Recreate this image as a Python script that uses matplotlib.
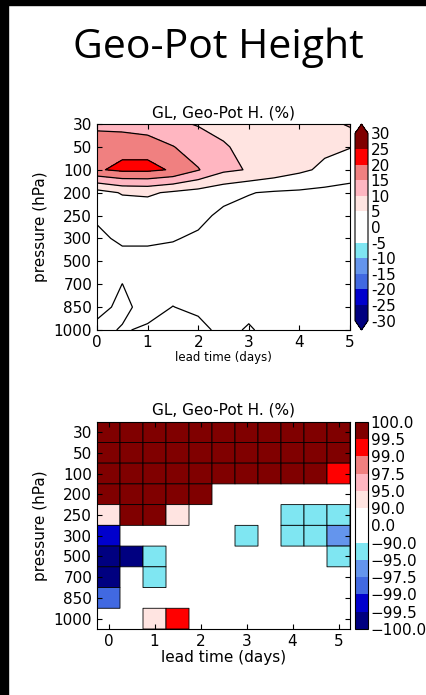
import numpy as np
import matplotlib
matplotlib.use("Agg")
import matplotlib.pyplot as plt
from matplotlib.colors import ListedColormap, BoundaryNorm
from matplotlib.patches import Rectangle

plt.rcParams["font.family"] = "DejaVu Sans"
plt.rcParams["font.size"] = 11
plt.rcParams["xtick.direction"] = "in"
plt.rcParams["ytick.direction"] = "in"
plt.rcParams["xtick.top"] = True
plt.rcParams["ytick.right"] = True

W, H = 426, 695

PRESSURE = ["30", "50", "100", "200", "250", "300", "500", "700", "850", "1000"]
LEAD_DAYS = [0, 0.5, 1, 1.5, 2, 2.5, 3, 3.5, 4, 4.5, 5]
DAY_TICKS = [0, 1, 2, 3, 4, 5]

# height difference (%), rows = pressure levels, columns = lead time
GEOPOT_DIFF = [
    [13.5, 13.0, 11.5, 10.8, 9.7, 8.5, 8.0, 7.5, 7.5, 8.0, 10.8],
    [18.5, 18.7, 18.7, 15.2, 12.5, 10.5, 8.5, 7.5, 6.8, 6.0, 5.3],
    [19.5, 21.0, 21.0, 19.6, 15.3, 11.0, 9.7, 8.0, 6.0, 4.0, 0.5],
    [3.0, 5.4, 5.8, 4.2, 3.0, 1.5, 0.2, -0.5, -0.8, -1.26, -0.35],
    [0.4, 1.5, 1.5, 2.0, 1.2, -1.0, -1.5, -1.5, -1.5, -1.5, -1.0],
    [-0.6, 0.5, 0.5, 0.3, -0.7, -1.5, -1.5, -1.5, -1.5, -1.5, -1.2],
    [-2.0, -1.0, -1.0, -1.7, -2.0, -2.0, -2.0, -2.0, -2.0, -2.0, -2.0],
    [-1.5, 0.02, -1.5, -1.0, -1.5, -1.5, -1.5, -1.5, -1.5, -1.5, -1.5],
    [-0.8, 0.6, -0.9, 0.05, -0.6, -1.0, -0.8, -1.0, -1.0, -1.0, -1.0],
    [0.7, -0.2, 0.35, 1.5, 0.9, -0.83, 0.3, -1.0, -1.0, -1.0, -1.0],
]

# significance level (%), None = not significant
N = None
SIGNIFICANCE = [
    [99.9, 99.9, 99.9, 99.9, 99.9, 99.9, 99.9, 99.9, 99.9, 99.9, 99.9],
    [99.9, 99.9, 99.9, 99.9, 99.9, 99.9, 99.9, 99.9, 99.9, 99.9, 99.9],
    [99.9, 99.9, 99.9, 99.9, 99.9, 99.9, 99.9, 99.9, 99.9, 99.9, 99.2],
    [99.9, 99.9, 99.9, 99.9, 99.9, N, N, N, N, N, N],
    [92.0, 99.9, 99.9, 92.0, N, N, N, N, -92.0, -92.0, -92.0],
    [-99.2, N, N, N, N, N, -92.0, N, -92.0, -92.0, -96.0],
    [-99.8, -99.8, -92.0, N, N, N, N, N, N, N, -92.0],
    [-99.8, N, -92.0, N, N, N, N, N, N, N, N],
    [-98.0, N, N, N, N, N, N, N, N, N, N],
    [N, N, 92.0, 99.2, N, N, N, N, N, N, N],
]

DIFF_LEVELS = [-30, -25, -20, -15, -10, -5, 0, 5, 10, 15, 20, 25, 30]
SIG_LEVELS = [-100, -99.5, -99, -97.5, -95, -90, 0, 90, 95, 97.5, 99, 99.5, 100]

BAND_COLORS = ["#000080", "#0000cd", "#4169e1", "#6495ed", "#7fe6f2", "white",
               "white", "#ffe4e1", "#ffb6c1", "#f08080", "#ff0000", "#800000"]


def _axes(fig, left, top, right, bottom):
    return fig.add_axes([left / W, 1 - bottom / H, (right - left) / W, (bottom - top) / H])


def plot_contour(fig):
    ax = _axes(fig, 97, 124, 350, 330)
    cax = _axes(fig, 355, 124, 368, 330)
    x = np.array(LEAD_DAYS)
    y = np.arange(len(PRESSURE))
    z = np.array(GEOPOT_DIFF)
    colors = [BAND_COLORS[0]] + BAND_COLORS + [BAND_COLORS[-1]]
    cf = ax.contourf(x, y, z, levels=DIFF_LEVELS, colors=colors, extend="both")
    ax.contour(x, y, z, levels=DIFF_LEVELS, colors="k", linewidths=0.9)
    ax.set_xlim(0, 5)
    ax.set_ylim(len(PRESSURE) - 1, 0)
    ax.set_yticks(y)
    ax.set_yticklabels(PRESSURE)
    ax.set_xticks(DAY_TICKS)
    ax.set_ylabel("pressure (hPa)")
    ax.set_xlabel("lead time (days)", fontsize=8.5, labelpad=1)
    ax.set_title("GL, Geo-Pot H. (%)", fontsize=11, pad=5)

    cb = fig.colorbar(cf, cax=cax, ticks=DIFF_LEVELS)
    cb.ax.set_yticklabels(["%d" % v for v in DIFF_LEVELS])
    cb.ax.tick_params(length=0, pad=2)


def plot_significance(fig):
    ax = _axes(fig, 97, 421.7, 350, 629)
    cax = _axes(fig, 355, 421.7, 368, 629)
    x = np.array(LEAD_DAYS)
    y = np.arange(len(PRESSURE))
    xe = np.append(x - 0.25, x[-1] + 0.25)
    ye = np.append(y - 0.5, y[-1] + 0.5)
    sig = np.array([[np.nan if v is None else v for v in row] for row in SIGNIFICANCE])
    sig = np.ma.masked_invalid(sig)
    cmap = ListedColormap(BAND_COLORS)
    norm = BoundaryNorm(SIG_LEVELS, cmap.N)
    pc = ax.pcolor(xe, ye, sig, cmap=cmap, norm=norm, edgecolors="k", linewidths=0.6)
    ax.set_xlim(xe[0], xe[-1])
    ax.set_ylim(ye[-1], ye[0])
    ax.set_yticks(y)
    ax.set_yticklabels(PRESSURE)
    ax.set_xticks(DAY_TICKS)
    ax.set_ylabel("pressure (hPa)")
    ax.set_xlabel("lead time (days)", labelpad=1)
    ax.set_title("GL, Geo-Pot H. (%)", fontsize=11, pad=5)

    cb = fig.colorbar(pc, cax=cax, ticks=SIG_LEVELS, spacing="uniform")
    cb.ax.set_yticklabels([("%.1f" % v).replace("-", "\u2212") for v in SIG_LEVELS])
    cb.ax.tick_params(length=0, pad=2)


if __name__ == "__main__":
    fig = plt.figure(figsize=(W / 100, H / 100), dpi=100)
    fig.add_artist(Rectangle((0, 0), 8 / W, 1, transform=fig.transFigure, color="k"))
    fig.add_artist(Rectangle((0, 1 - 5 / H), 1, 5 / H, transform=fig.transFigure, color="k"))
    fig.text(218 / W, 1 - 58 / H, "Geo-Pot Height", ha="center", va="baseline",
             fontsize=29.5, family="Open Sans")
    plot_contour(fig)
    plot_significance(fig)
    fig.savefig("out.png", dpi=100)
